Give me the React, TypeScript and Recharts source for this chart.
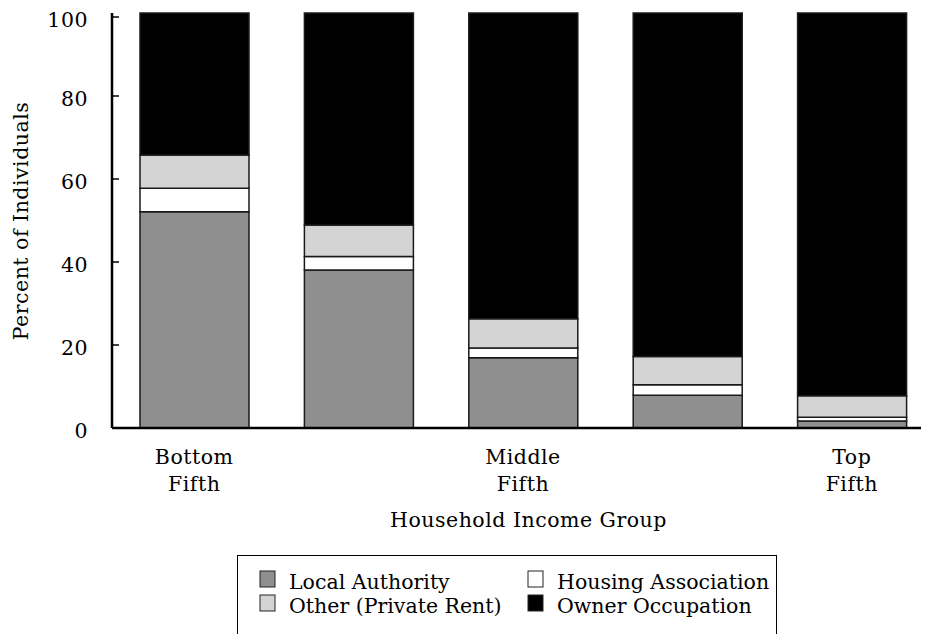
import React from 'react';
import { BarChart, Bar, XAxis, YAxis } from 'recharts';

const groups = ['Bottom', 'Second', 'Middle', 'Fourth', 'Top'];
const tickLines: string[][] = [['Bottom', 'Fifth'], [], ['Middle', 'Fifth'], [], ['Top', 'Fifth']];
const localAuthority = [52.1, 38.1, 16.9, 7.9, 1.7];
const housingAssociation = [5.7, 3.2, 2.4, 2.5, 0.9];
const privateRent = [8.0, 7.6, 7.0, 6.8, 5.2];
const ownerOccupation = [34.2, 51.1, 73.7, 82.8, 92.2];
const yTicks = [0, 20, 40, 60, 80, 100];

const FONT = '"DejaVu Serif", "Liberation Serif", serif';
const txt = { fontFamily: FONT, fontSize: 20.5, letterSpacing: 0.5 } as const;
const legendTxt = { fontFamily: FONT, fontSize: 20.5, letterSpacing: 0 } as const;

const data = groups.map((g, i) => ({
  group: g,
  la: localAuthority[i],
  ha: housingAssociation[i],
  pr: privateRent[i],
  oo: ownerOccupation[i],
}));

const YTick = (props: any) => {
  const { x, y, payload } = props;
  return (
    <g>
      <line x1={x} x2={x + 7} y1={y} y2={y} stroke="#000" strokeWidth={1.5} />
      <text x={x - 24} y={y + 10} textAnchor="end" style={txt} fill="#000">
        {payload.value}
      </text>
    </g>
  );
};

const XTick = (props: any) => {
  const { x, y, index } = props;
  const lines = tickLines[index] || [];
  return (
    <g>
      {lines.map((l, i) => (
        <text key={i} x={x} y={y + 36 + i * 27} textAnchor="middle" style={txt} fill="#000">
          {l}
        </text>
      ))}
    </g>
  );
};

const legendItems = [
  { label: 'Local Authority', color: '#8f8f8f', x: 252, y: 581 },
  { label: 'Housing Association', color: '#ffffff', x: 520, y: 581 },
  { label: 'Other (Private Rent)', color: '#d4d4d4', x: 252, y: 605 },
  { label: 'Owner Occupation', color: '#000000', x: 520, y: 605 },
];

export default function App() {
  const stroke = '#1a1a1a';
  return (
    <div style={{ position: 'relative', width: 921, height: 626, overflow: 'hidden' }}>
      <BarChart width={926} height={626} data={data} margin={{ top: 5, right: 0, left: 0, bottom: 0 }} barSize={109}>
        <XAxis
          dataKey="group"
          height={206}
          axisLine={{ stroke: '#000', strokeWidth: 2.5 }}
          tickLine={false}
          tickSize={0}
          tickMargin={0}
          interval={0}
          tick={<XTick />}
          label={{
            content: () => (
              <text x={520.5} y={519} textAnchor="middle" style={txt} fill="#000">
                Household Income Group
              </text>
            ),
          }}
        />
        <YAxis
          width={104}
          domain={[0, 100]}
          ticks={yTicks}
          axisLine={{ stroke: '#000', strokeWidth: 2.5 }}
          tickLine={false}
          tickSize={0}
          tickMargin={0}
          tick={<YTick />}
          label={{
            content: () => (
              <text
                x={14}
                y={213}
                transform="rotate(-90 14 213)"
                textAnchor="middle"
                dominantBaseline="middle"
                style={txt}
                fill="#000"
              >
                Percent of Individuals
              </text>
            ),
          }}
        />
        <Bar dataKey="la" stackId="a" fill="#8f8f8f" stroke={stroke} strokeWidth={1.5} isAnimationActive={false} />
        <Bar dataKey="ha" stackId="a" fill="#ffffff" stroke={stroke} strokeWidth={1.5} isAnimationActive={false} />
        <Bar dataKey="pr" stackId="a" fill="#d4d4d4" stroke={stroke} strokeWidth={1.5} isAnimationActive={false} />
        <Bar dataKey="oo" stackId="a" fill="#000000" stroke={stroke} strokeWidth={1.5} isAnimationActive={false} />
      </BarChart>
      <svg width={921} height={626} style={{ position: 'absolute', left: 0, top: 0, pointerEvents: 'none' }}>
        <rect x={229.5} y={547.5} width={539} height={120} fill="none" stroke="#000" strokeWidth={1} />
        {legendItems.map((it) => (
          <g key={it.label}>
            <rect x={it.x} y={it.y - 18} width={15} height={16} fill={it.color} stroke="#222" strokeWidth={1} />
            <text x={it.x + 29} y={it.y} style={legendTxt} fill="#000">
              {it.label}
            </text>
          </g>
        ))}
      </svg>
    </div>
  );
}
